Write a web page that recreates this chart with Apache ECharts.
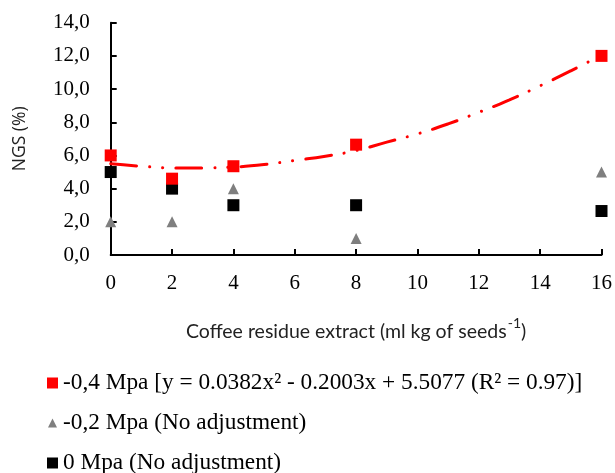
<!DOCTYPE html>
<html>
<head>
<meta charset="utf-8">
<script src="https://cdn.jsdelivr.net/npm/echarts@6/dist/echarts.min.js"></script>
<style>
html,body{margin:0;padding:0;background:#fff;}
#chart{width:615px;height:473px;}
</style>
</head>
<body>
<div id="chart"></div>
<script>
// Data
var doses = [0, 2, 4, 8, 16];
var mpa04 = [6.0, 4.6, 5.35, 6.65, 12.0];
var mpa02 = [2.0, 2.0, 4.0, 1.0, 5.0];
var mpa0 = [5.0, 4.0, 3.0, 3.0, 2.65];
// Fitted curve of the -0,4 Mpa series
var trendX = [0, 1, 2, 3, 4, 5, 6, 7, 8, 9, 10, 11, 12, 13, 14, 15, 16];
var trendY = [5.5, 5.35, 5.25, 5.25, 5.3, 5.45, 5.7, 5.95, 6.3, 6.8, 7.3, 7.9, 8.6, 9.35, 10.2, 11.1, 12.05];
var xTicks = [0, 2, 4, 6, 8, 10, 12, 14, 16];
var yTicks = [0, 2, 4, 6, 8, 10, 12, 14];
var names = [
  '-0,4 Mpa [y = 0.0382x\u00B2 - 0.2003x + 5.5077 (R\u00B2 = 0.97)]',
  '-0,2 Mpa (No adjustment)',
  '0 Mpa (No adjustment)'
];

function pairs(xs, ys) { return xs.map(function (x, i) { return [x, ys[i]]; }); }

var serif = 'Liberation Serif';
function legendText(padLeft) {
  return {fontFamily: serif, fontSize: 23.3, color: '#000', lineHeight: 24, padding: [0, 0, 0, padLeft]};
}
var chart = echarts.init(document.getElementById('chart'), null, {renderer: 'canvas'});
chart.setOption({
  animation: false,
  backgroundColor: '#fff',
  grid: {left: 110.7, right: 11, top: 22.7, bottom: 218, containLabel: false},
  xAxis: {
    type: 'value',
    min: xTicks[0], max: xTicks[xTicks.length - 1], interval: 2,
    axisLine: {lineStyle: {color: '#000', width: 2}},
    axisTick: {inside: true, length: 6, lineStyle: {color: '#000', width: 2}},
    splitLine: {show: false},
    axisLabel: {color: '#000', fontFamily: serif, fontSize: 21, margin: 18},
    name: '{t|Coffee residue extract (ml kg of seeds}{s|-1}{t|)}',
    nameLocation: 'middle',
    nameGap: 61,
    nameTextStyle: {
      rich: {
        t: {fontFamily: 'Lato', fontSize: 19.5, color: '#222', lineHeight: 26, verticalAlign: 'bottom'},
        s: {fontFamily: 'Lato', fontSize: 14, color: '#222', lineHeight: 26, verticalAlign: 'top', padding: [0, 0, 0, 1]}
      }
    }
  },
  yAxis: {
    type: 'value',
    min: yTicks[0], max: yTicks[yTicks.length - 1], interval: 2,
    axisLine: {show: true, lineStyle: {color: '#000', width: 2}},
    axisTick: {show: true, inside: true, length: 6, lineStyle: {color: '#000', width: 2}},
    splitLine: {show: false},
    axisLabel: {
      color: '#000', fontFamily: serif, fontSize: 21, margin: 21,
      formatter: function (v) { return v.toFixed(1).replace('.', ','); }
    },
    name: 'NGS (%)',
    nameLocation: 'middle',
    nameGap: 82,
    nameTextStyle: {fontFamily: 'Open Sans', fontSize: 17.5, color: '#222'}
  },
  legend: [
    {
      left: 47, top: 371, padding: 0, itemWidth: 11, itemHeight: 11,
      textStyle: legendText(0),
      data: [{name: names[0], icon: 'rect'}]
    },
    {
      left: 48, top: 411, padding: 0, itemWidth: 9, itemHeight: 9,
      textStyle: legendText(1),
      data: [{name: names[1], icon: 'triangle'}]
    },
    {
      left: 47, top: 451, padding: 0, itemWidth: 11, itemHeight: 11,
      textStyle: legendText(0),
      data: [{name: names[2], icon: 'rect'}]
    }
  ],
  series: [
    {
      name: 'trend', type: 'line', data: pairs(trendX, trendY),
      smooth: true, showSymbol: false, symbol: 'none', silent: true, z: 1,
      lineStyle: {color: '#ff0000', width: 3, cap: 'round', type: [26, 13, 0.1, 13, 0.1, 13]}
    },
    {
      name: names[1], type: 'scatter', data: pairs(doses, mpa02),
      symbol: 'triangle', symbolSize: 11, itemStyle: {color: '#7f7f7f', opacity: 1}, z: 3
    },
    {
      name: names[2], type: 'scatter', data: pairs(doses, mpa0),
      symbol: 'rect', symbolSize: 12, itemStyle: {color: '#000', opacity: 1}, z: 3
    },
    {
      name: names[0], type: 'scatter', data: pairs(doses, mpa04),
      symbol: 'rect', symbolSize: 12, itemStyle: {color: '#ff0000', opacity: 1}, z: 4, clip: false
    }
  ]
});
</script>
</body>
</html>
